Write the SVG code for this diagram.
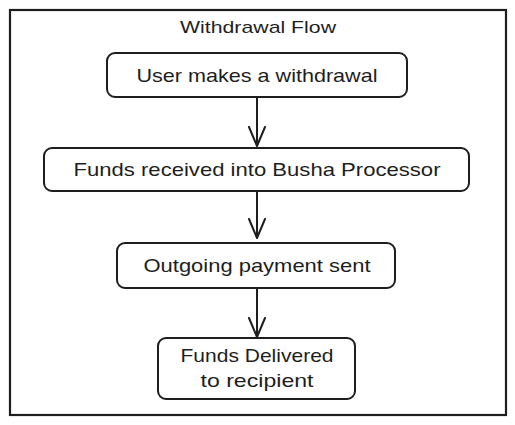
<svg xmlns="http://www.w3.org/2000/svg" width="515" height="425" viewBox="0 0 515 425">
<defs>
<style>
.box{fill:#fff;stroke:#1e1e1e;stroke-width:2}
.frame{fill:#fff;stroke:#1e1e1e;stroke-width:2.2}
.t{font-family:"Liberation Sans","DejaVu Sans",sans-serif;font-size:19px;fill:#1e1e1e;text-anchor:middle}
.title{font-family:"Liberation Sans","DejaVu Sans",sans-serif;font-size:17px;fill:#1e1e1e;text-anchor:middle}
.c{stroke:#1e1e1e;stroke-width:2;fill:none}
</style>
<marker id="arr" markerWidth="22" markerHeight="22" refX="20" refY="11" orient="auto" markerUnits="userSpaceOnUse">
<path d="M1,3 L20,11 L1,19" fill="none" stroke="#1e1e1e" stroke-width="2" stroke-linecap="round" stroke-linejoin="round"/>
</marker>
</defs>
<rect width="515" height="425" fill="#fff"/>
<g id="frame">
<rect class="frame" x="10" y="10" width="496" height="405"/>
<text class="title" x="258" y="33" textLength="156" lengthAdjust="spacingAndGlyphs">Withdrawal Flow</text>
</g>
<g id="connectors">
<line class="c" x1="257" y1="97" x2="257" y2="146" marker-end="url(#arr)"/>
<line class="c" x1="257" y1="191" x2="257" y2="238" marker-end="url(#arr)"/>
<line class="c" x1="257" y1="288" x2="257" y2="337" marker-end="url(#arr)"/>
</g>
<g id="n1">
<rect class="box" x="107" y="53" width="300" height="44" rx="8"/>
<text class="t" x="257" y="82" textLength="241" lengthAdjust="spacingAndGlyphs">User makes a withdrawal</text>
</g>
<g id="n2">
<rect class="box" x="44" y="148" width="425" height="43" rx="8"/>
<text class="t" x="257" y="176" textLength="367" lengthAdjust="spacingAndGlyphs">Funds received into Busha Processor</text>
</g>
<g id="n3">
<rect class="box" x="117" y="243" width="278" height="45" rx="8"/>
<text class="t" x="257" y="272" textLength="227" lengthAdjust="spacingAndGlyphs">Outgoing payment sent</text>
</g>
<g id="n4">
<rect class="box" x="158" y="338" width="197" height="61" rx="8"/>
<text class="t" x="257" y="362" textLength="153" lengthAdjust="spacingAndGlyphs">Funds Delivered</text>
<text class="t" x="257" y="387" textLength="113" lengthAdjust="spacingAndGlyphs">to recipient</text>
</g>
</svg>
